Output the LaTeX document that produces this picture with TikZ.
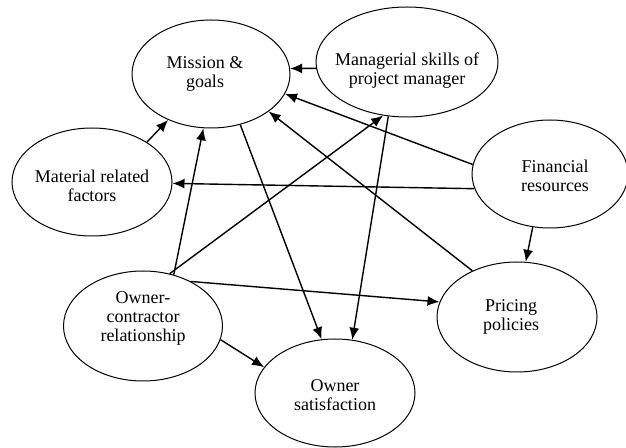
\documentclass[tikz,border=0pt]{standalone}
\usepackage{fontspec}
\setmainfont{Liberation Serif}
\usetikzlibrary{arrows.meta,shapes.geometric}

\begin{document}
\begin{tikzpicture}[x=0.5pt,y=-0.5pt,font=\fontsize{9}{9.5}\selectfont,
        factor/.style={ellipse,draw,line width=0.5pt,inner sep=0pt},
        every label/.append style={align=center},
        arr/.style={-{Latex[length=6pt,width=5pt]},line width=0.7pt}]
        \useasboundingbox (0,0) rectangle (626,448);

        % factors
        \node [factor,minimum width=79pt,minimum height=54pt,label={[xshift=-3pt]center:Mission \&\\goals}] (mis) at (211,74) {};
        \node [factor,minimum width=91pt,minimum height=55pt,label={[yshift=-4.5pt]center:Managerial skills of\\project manager}] (mgr) at (407,62) {};
        \node [factor,minimum width=80pt,minimum height=54pt,label={[yshift=-2pt]center:Material related\\factors}] (mat) at (92,182) {};
        \node [factor,minimum width=78pt,minimum height=54pt,label={[xshift=2.5pt,yshift=-1pt]center:Financial\\resources}] (fin) at (550,174) {};
        \node [factor,minimum width=79.5pt,minimum height=55pt,label={[yshift=4pt]center:Owner-\\contractor\\relationship}] (own) at (143,326) {};
        \node [factor,minimum width=80pt,minimum height=54pt,label={[yshift=-1pt]center:Owner\\satisfaction}] (sat) at (335,393) {};
        \node [factor,minimum width=80pt,minimum height=55pt,label={[xshift=-3pt]center:Pricing\\policies}] (pri) at (517,317) {};

        % influences
        \draw [arr] (mgr.184) -- (mis.4);
        \draw [arr] (fin.173) -- (mis.345);
        \draw [arr] (pri.134) -- (mis.327);
        \draw [arr] (mat.36) -- (mis.227);
        \draw [arr] (fin.191) -- (mat.359);
        \draw [arr] (fin.252) -- (pri.81);
        \draw [arr] (own.59) -- (mis.262);
        \draw [arr] (own.63) -- (mgr.246);
        \draw [arr] (own.43) -- (pri.169);
        \draw [arr] (own.350) -- (sat.160);
        \draw [arr] (mis.300) -- (sat.104);
        \draw [arr] (mgr.251) -- (sat.72);
\end{tikzpicture}
\end{document}
